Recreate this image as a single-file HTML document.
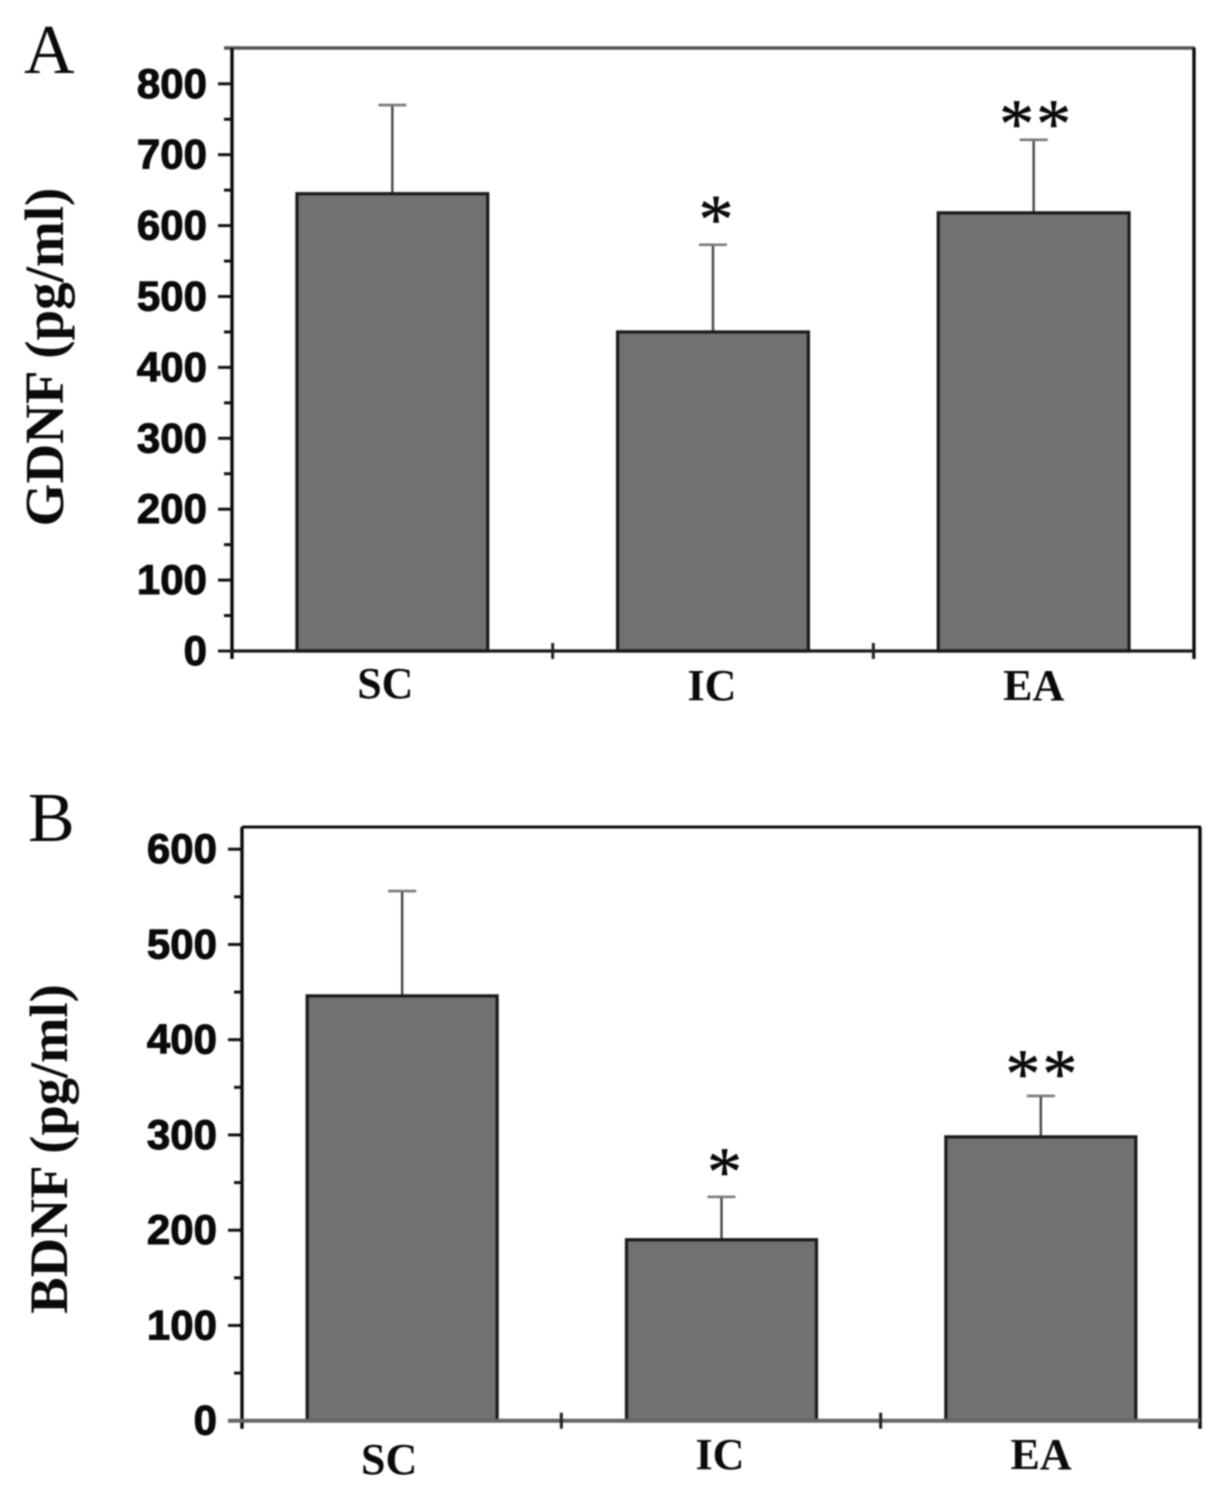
<!DOCTYPE html>
<html>
<head>
<meta charset="utf-8">
<title>GDNF and BDNF bar charts</title>
<style>
html,body{margin:0;padding:0;background:#fff;width:1228px;height:1499px;overflow:hidden}
svg{display:block;filter:blur(0.7px)}
text{fill:#0a0a0a}
.tick{font:bold 42px "Liberation Sans",sans-serif;text-anchor:end;stroke:#0a0a0a;stroke-width:1px}
.cat{font:bold 44px "Liberation Serif",serif;text-anchor:middle}
.ylab{font-family:"Liberation Serif",serif;font-weight:bold;text-anchor:middle}
.panel{font:normal 70px "Liberation Serif",serif}
.star{font:normal 70px "Liberation Serif",serif;text-anchor:middle;stroke:#000;stroke-width:.5px}
</style>
</head>
<body>
<svg id="fig" width="1228" height="1499" viewBox="0 0 1228 1499" xmlns="http://www.w3.org/2000/svg"></svg>
<script>
const categories = ['SC', 'IC', 'EA'];
const gdnfValues = [645, 450, 618];
const gdnfErrors = [125, 123, 103];
const gdnfTicks = [0, 100, 200, 300, 400, 500, 600, 700, 800];
const bdnfValues = [446, 190, 298];
const bdnfErrors = [110, 45, 43];
const bdnfTicks = [0, 100, 200, 300, 400, 500, 600];
const significance = ['', '*', '**'];

const svg = document.getElementById('fig');
const NS = 'http://www.w3.org/2000/svg';
function make(tag, attrs, text) {
  const el = document.createElementNS(NS, tag);
  for (const k in attrs) el.setAttribute(k, attrs[k]);
  if (text !== undefined) el.textContent = text;
  svg.appendChild(el);
  return el;
}
function drawLine(x1, y1, x2, y2, w, color) {
  return make('line', {x1: x1, y1: y1, x2: x2, y2: y2, stroke: color || '#111', 'stroke-width': w});
}
function drawPanel(p) {
  const yScale = v => p.y0 - (v / 100) * p.unit;
  const xBand = i => p.left + (i + 0.5) * (p.right - p.left) / p.values.length;
  const band = (p.right - p.left) / p.values.length;
  const barW = band * 0.595;

  const topLine = drawLine(p.left - 8 * p.topOver, p.top, p.right + 1, p.top, p.topW, p.topColor);
  
  
  const rightLine = drawLine(p.right, p.top, p.right, p.y0 + 8, 3.4, '#0a0a0a');
  
  

  p.values.forEach((v, i) => {
    const cx = xBand(i) + p.barShift;
    const errTop = yScale(v + p.errors[i]);
    const stem = drawLine(cx, yScale(v), cx, errTop, 2.4, '#444');
    
    
    const cap = drawLine(cx - 14, errTop, cx + 14, errTop, 2.6, '#777');
    
    
    const bar = make('rect', {x: cx - barW / 2, y: yScale(v), width: barW, height: p.y0 - yScale(v), fill: '#717171', stroke: '#1a1a1a', 'stroke-width': 3.2});
    
    

    const mark = significance[i];
    for (let s = 0; s < mark.length; s++) {
      const sx = cx + p.starDx[i] + (s - (mark.length - 1) / 2) * 37;
      const star = make('text', {class: 'star', x: sx, y: errTop + p.starDy[i]}, '*');
      
      
    }

    const label = make('text', {class: 'cat', x: xBand(i) + p.catShift[i], y: p.catY[i]}, categories[i]);
    
    
  });

  const maxTick = p.ticks[p.ticks.length - 1];
  const axisY = drawLine(p.left, p.top, p.left, p.y0 + 8, 3.4, '#0a0a0a');
  
  
  const axisX = drawLine(p.left - (p.xAxisW > 3.5 ? 14 : 0), p.y0, p.right, p.y0, p.xAxisW, p.xAxisColor);
  
  

  p.ticks.forEach(t => {
    const y = yScale(t);
    const major = drawLine(p.left - 14, y, p.left, y, 3, t === 0 ? p.xAxisColor : '#111');
    
    
    const lab = make('text', {class: 'tick', x: p.left - 25, y: y + 14}, String(t));
    
    
    if (t < maxTick) {
      const my = yScale(t + 50);
      const minor = drawLine(p.left - 8, my, p.left, my, 3, '#111');
      
      
    }
  });
  for (let i = 1; i < p.values.length; i++) {
    const x = p.left + i * band;
    const t = drawLine(x, p.y0 - 8, x, p.y0 + 8, 3, '#222');
    
    
  }

  const title = make('text', {class: 'ylab', x: 0, y: 0, 'font-size': p.ylabSize, transform: 'translate(' + p.ylabX + ' ' + p.ylabY + ') rotate(-90)'}, p.ylabel);
  
  
  const letter = make('text', {class: 'panel', x: p.letterX, y: p.letterY}, p.letter);
  
  
}

drawPanel({
  key: 'gdnf', letter: 'A', ylabel: 'GDNF (pg/ml)', values: gdnfValues, errors: gdnfErrors, ticks: gdnfTicks,
  left: 232, right: 1194, top: 48, y0: 651, unit: 70.9, topOver: 1, topW: 3.4, topColor: '#555',
  xAxisW: 3.2, xAxisColor: '#1a1a1a',
  barShift: 0, starDx: [0, 3, 1.5], starDy: [0, -2, 7], catShift: [-7, -1, 0], catY: [698, 700, 700],
  ylabX: 63, ylabY: 357, ylabSize: 55, letterX: 24, letterY: 73
});
drawPanel({
  key: 'bdnf', letter: 'B', ylabel: 'BDNF (pg/ml)', values: bdnfValues, errors: bdnfErrors, ticks: bdnfTicks,
  left: 242, right: 1200, top: 827, y0: 1420.7, unit: 95.25, topOver: 0, topW: 3, topColor: '#111',
  xAxisW: 4, xAxisColor: '#666',
  barShift: 0.5, starDx: [0, 3, 0.5], starDy: [0, -2, 1], catShift: [-12.5, -1, 0.7], catY: [1474, 1469, 1469],
  ylabX: 67, ylabY: 1149, ylabSize: 54.5, letterX: 28, letterY: 841
});
</script>
</body>
</html>
